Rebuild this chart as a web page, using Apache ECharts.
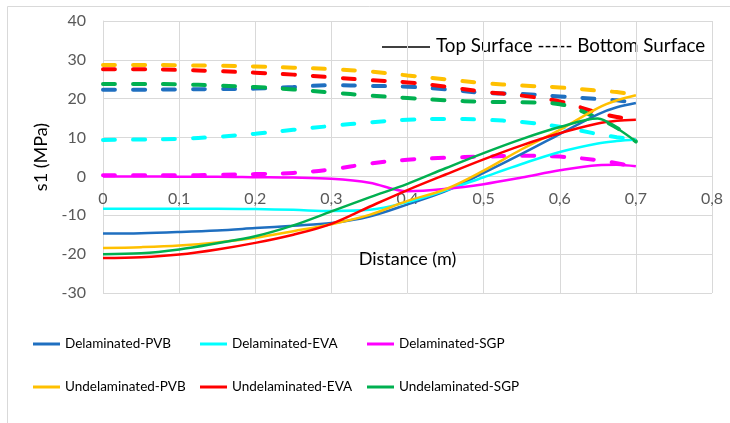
<!DOCTYPE html>
<html>
<head>
<meta charset="utf-8">
<script src="https://cdn.jsdelivr.net/npm/echarts@6/dist/echarts.min.js"></script>
<style>
  html, body { margin: 0; padding: 0; background: #fff; }
  #chart { width: 730px; height: 423px; }
</style>
</head>
<body>
<div id="chart"></div>
<script>
// Distance along the pane (m)
const distance = [0, 0.05, 0.1, 0.15, 0.2, 0.25, 0.3, 0.35, 0.4, 0.45, 0.5, 0.55, 0.6, 0.65, 0.675, 0.7];

// Top surface principal stress s1 (MPa)
const delPvbTop = [-14.7, -14.6, -14.3, -13.9, -13.3, -12.7, -12.0, -10.3, -7.2, -3.8, 0.9, 5.8, 10.9, 16.0, 17.8, 18.9];
const delEvaTop = [-8.3, -8.3, -8.3, -8.3, -8.4, -8.6, -8.9, -8.6, -6.6, -3.6, -0.2, 3.2, 6.3, 8.5, 9.1, 9.5];
const delSgpTop = [0.0, 0.0, -0.1, -0.1, -0.2, -0.3, -0.6, -1.6, -3.8, -3.2, -2.0, -0.3, 1.6, 2.9, 3.0, 2.6];
const undPvbTop = [-18.4, -18.2, -17.8, -17.0, -15.8, -14.1, -12.3, -9.9, -6.3, -3.3, 1.5, 7.0, 12.0, 17.6, 19.6, 20.9];
const undEvaTop = [-21.0, -20.8, -20.1, -18.8, -17.1, -15.0, -12.2, -7.8, -3.5, 0.5, 4.4, 8.0, 11.1, 13.6, 14.3, 14.6];
const undSgpTop = [-20.0, -19.8, -18.8, -17.2, -15.4, -12.6, -9.0, -5.4, -1.9, 2.1, 6.0, 9.6, 12.7, 14.9, 12.4, 9.0];

// Bottom surface principal stress s1 (MPa)
const delPvbBot = [22.3, 22.3, 22.4, 22.5, 22.6, 23.0, 23.5, 23.3, 23.1, 22.4, 21.5, 21.2, 20.6, 19.9, 19.6, 18.9];
const delEvaBot = [9.4, 9.5, 9.7, 10.2, 11.0, 12.0, 13.0, 13.9, 14.6, 14.8, 14.6, 14.0, 12.8, 10.9, 10.1, 9.4];
const delSgpBot = [0.3, 0.3, 0.3, 0.4, 0.6, 0.9, 1.8, 3.3, 4.3, 4.8, 5.1, 5.3, 5.1, 4.2, 3.4, 2.5];
const undPvbBot = [28.7, 28.7, 28.6, 28.5, 28.3, 28.0, 27.6, 27.0, 26.0, 25.0, 24.0, 23.4, 22.9, 22.1, 21.7, 21.0];
const undEvaBot = [27.6, 27.6, 27.4, 27.1, 26.7, 26.2, 25.5, 24.8, 24.2, 23.1, 21.8, 20.8, 19.3, 16.4, 15.3, 14.6];
const undSgpBot = [23.8, 23.8, 23.7, 23.4, 23.0, 22.4, 21.6, 20.8, 20.2, 19.6, 19.2, 19.1, 18.6, 15.0, 12.5, 9.0];

const caseNames = ['Delaminated-PVB', 'Delaminated-EVA', 'Delaminated-SGP',
                   'Undelaminated-PVB', 'Undelaminated-EVA', 'Undelaminated-SGP'];
const caseColors = ['#1F6FC0', '#00FFFF', '#FF00FF', '#FFC000', '#FF0000', '#00B050'];
const topValues = [delPvbTop, delEvaTop, delSgpTop, undPvbTop, undEvaTop, undSgpTop];
const bottomValues = [delPvbBot, delEvaBot, delSgpBot, undPvbBot, undEvaBot, undSgpBot];

const FONT = "Lato, 'Liberation Sans', sans-serif";

function pairs(values) {
  return distance.map((d, i) => [d, values[i]]);
}

const series = [];
caseNames.forEach((name, i) => {
  series.push({
    name: name,
    type: 'line',
    data: pairs(topValues[i]),
    smooth: 0.35,
    symbol: 'none',
    lineStyle: { color: caseColors[i], width: 2.5 },
    itemStyle: { color: caseColors[i] },
    z: 3
  });
});
caseNames.forEach((name, i) => {
  series.push({
    name: name + ' (bottom)',
    type: 'line',
    data: pairs(bottomValues[i]),
    smooth: 0.35,
    symbol: 'none',
    lineStyle: { color: caseColors[i], width: 4, type: [12, 18], cap: 'round' },
    itemStyle: { color: caseColors[i] },
    z: 2
  });
});

// One legend box per case so the three columns line up exactly
const legendCols = [33, 200, 367];
const legendRows = [337, 380];
const legends = caseNames.map((name, i) => ({
  data: [name],
  left: legendCols[i % 3],
  top: legendRows[Math.floor(i / 3)],
  padding: 0,
  icon: 'rect', itemWidth: 27, itemHeight: 3, itemTextGap: 2,
  textStyle: { fontFamily: FONT, fontSize: 13.5, color: '#000' }
}));

const chart = echarts.init(document.getElementById('chart'), null, { renderer: 'canvas' });

chart.setOption({
  animation: false,
  backgroundColor: '#fff',
  textStyle: { fontFamily: FONT },
  grid: { left: 103, right: 18, top: 21, bottom: 130, containLabel: false, outerBoundsMode: 'none' },
  graphic: [
    {
      type: 'rect', silent: true, z: -10,
      shape: { x: 7.5, y: 6.5, width: 760, height: 440 },
      style: { fill: 'none', stroke: '#d9d9d9', lineWidth: 1 }
    },
    {
      type: 'line', silent: true,
      shape: { x1: 382, y1: 47, x2: 430, y2: 47 },
      style: { stroke: '#000', lineWidth: 1.3 }
    },
    {
      type: 'text', silent: true, left: 436, top: 36,
      style: { text: 'Top Surface ----- Bottom Surface', fontFamily: FONT, fontSize: 18.8, fill: '#000' }
    }
  ],
  legend: legends,
  xAxis: {
    type: 'value', min: 0, max: 0.8, interval: 0.1,
    name: 'Distance (m)', nameLocation: 'middle', nameGap: 74,
    nameTextStyle: { fontFamily: FONT, fontSize: 18, color: '#000' },
    axisLine: { onZero: false, lineStyle: { color: '#d9d9d9', width: 1 } },
    axisTick: { show: false },
    axisLabel: {
      margin: 14, fontFamily: FONT, fontSize: 16, color: '#595959',
      formatter: v => String(Math.round(v * 10) / 10).replace('.', ',')
    },
    splitLine: { show: true, lineStyle: { color: '#d9d9d9', width: 1 } }
  },
  yAxis: {
    type: 'value', min: -30, max: 40, interval: 10,
    name: 's1 (MPa)', nameLocation: 'middle', nameGap: 52, nameRotate: 90,
    nameTextStyle: { fontFamily: FONT, fontSize: 18, color: '#000' },
    axisLine: { show: true, onZero: false, lineStyle: { color: '#d9d9d9', width: 1 } },
    axisTick: { show: false },
    axisLabel: { margin: 17, fontFamily: FONT, fontSize: 16, color: '#595959' },
    splitLine: { show: true, lineStyle: { color: '#d9d9d9', width: 1 } }
  },
  series: series
});

// Lift the horizontal axis (line, tick labels and title) up to s1 = 0
const yBottom = chart.convertToPixel({ yAxisIndex: 0 }, -30);
const yZero = chart.convertToPixel({ yAxisIndex: 0 }, 0);
chart.setOption({ xAxis: { offset: -(yBottom - yZero) } });
</script>
</body>
</html>
